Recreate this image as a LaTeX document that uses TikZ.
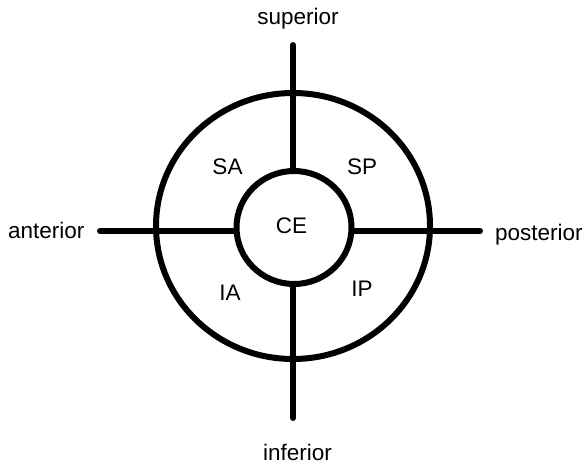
\documentclass[tikz,border=0pt]{standalone}
\usepackage{fontspec}
\setmainfont{Liberation Sans}
\usetikzlibrary{shapes.geometric}
\begin{document}
\begin{tikzpicture}[x=1pt,y=-1pt,
  ring/.style={ellipse,draw,line width=6pt,inner sep=0pt},
  axisline/.style={line width=6pt,line cap=round},
  lbl/.style={inner sep=0pt,font=\fontsize{22.5}{26}\selectfont}]
\useasboundingbox (0,0) rectangle (585,465);
\node[ring,minimum width=274pt,minimum height=266pt] (outer) at (293,226) {};
\node[ring,minimum width=115pt,minimum height=113pt] (inner) at (294,227.5) {};
\coordinate (top) at (293,45);
\coordinate (bot) at (293,418);
\coordinate (lft) at (100,231);
\coordinate (rgt) at (480,231);
\draw[axisline] (top) -- (top |- inner.north);
\draw[axisline] (bot) -- (bot |- inner.south);
\draw[axisline] (lft) -- (lft -| inner.west);
\draw[axisline] (rgt) -- (rgt -| inner.east);
\node[lbl,anchor=base] (sup) at (298,25) {superior};
\node[lbl,anchor=base] (inf) at (297.5,460) {inferior};
\node[lbl,anchor=base west] (ant) at (8,238) {anterior};
\node[lbl,anchor=base west] (pos) at (495,240) {posterior};
\node[lbl,anchor=base] (sa) at (227.5,174) {SA};
\node[lbl,anchor=base] (sp) at (362,174) {SP};
\node[lbl,anchor=base] (ce) at (291.5,233) {CE};
\node[lbl,anchor=base] (ia) at (230,300) {IA};
\node[lbl,anchor=base] (ip) at (362,296) {IP};
\end{tikzpicture}
\end{document}
